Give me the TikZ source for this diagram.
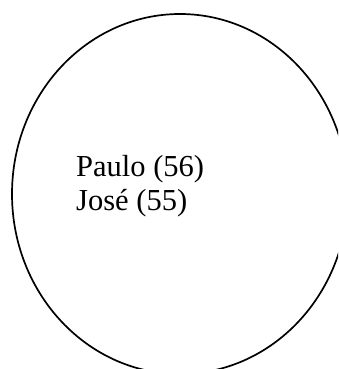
\documentclass[tikz,border=0pt]{standalone}
\usepackage{fontspec}
\setmainfont{Liberation Serif}
\usetikzlibrary{shapes.geometric}
\begin{document}
\begin{tikzpicture}[x=1pt,y=1pt,
  ring/.style={draw=black,line width=1.7pt},
  names/.style={align=left,inner sep=0pt,font=\fontsize{30.5}{34}\selectfont}]
\useasboundingbox (0,0) rectangle (338,369);
\clip (0,0) rectangle (338,369);
\node[ring,ellipse,minimum width=336pt,minimum height=360pt,inner sep=0pt] (circle) at (180,175) {};
\node[names,anchor=base west] (people) at (76,158) {Paulo (56)\\José (55)};
\end{tikzpicture}
\end{document}
